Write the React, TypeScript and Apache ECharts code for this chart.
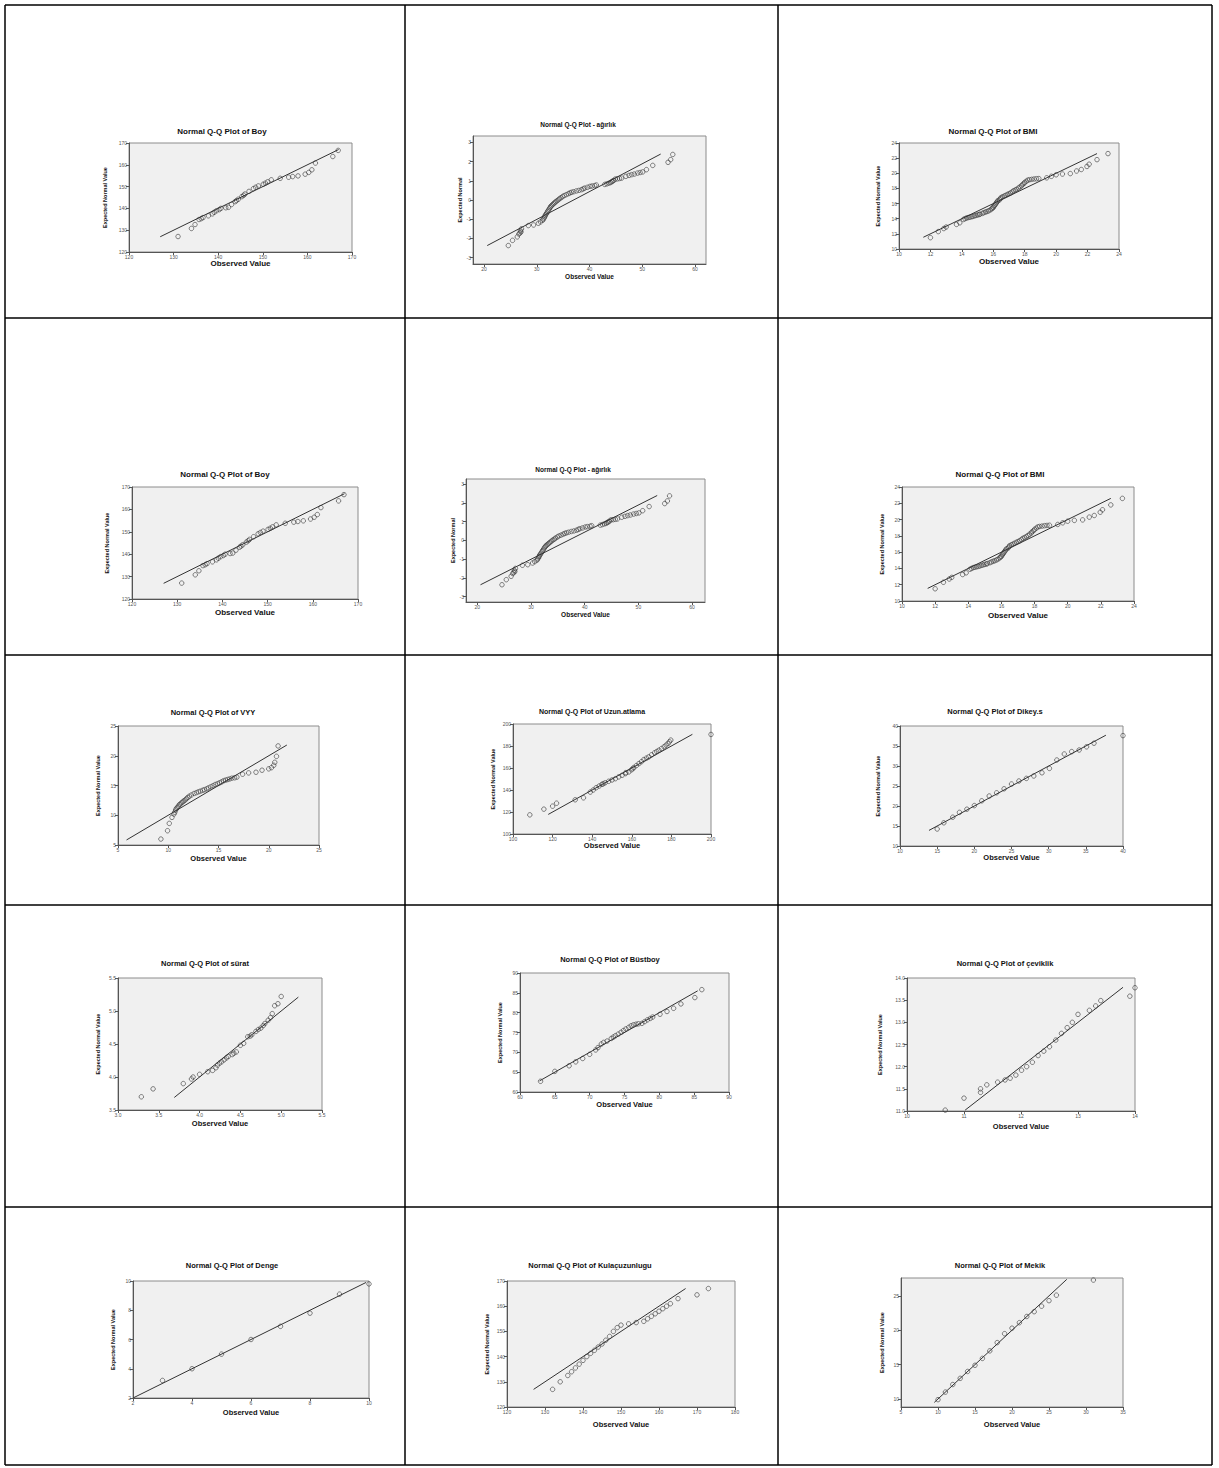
import React, { useEffect, useRef } from "react";
import * as echarts from "echarts";

// ---------- data: [observed, expected] pairs ----------
const boyPts = [[131,127.1],[134,130.8],[134.8,132.6],[135.7,134.9],[136.2,135.3],[136.6,135.8],[137.8,136.6],[138.7,137.5],[139.1,138.2],[139.6,138.9],[140.2,139.4],[140.6,140.0],[141.7,140.3],[142.3,140.5],[143,141.8],[143.8,143.1],[144.1,143.6],[144.5,144.2],[145.3,145.4],[145.7,146.0],[146,146.6],[146.9,147.8],[147.9,149.1],[148.4,149.7],[149,150.3],[150.1,151.1],[150.6,151.6],[151.1,152.2],[151.9,153.1],[153.9,153.8],[155.8,154.3],[156.7,154.6],[157.9,154.9],[159.5,155.7],[160.3,156.5],[161,157.7],[161.8,160.8],[165.7,163.8],[166.9,166.6]];
const boyLine = [[127,127],[167,167]];

const agirlikPts = [[24.6,-2.37],[25.4,-2.1],[26.3,-1.92],[26.6,-1.77],[26.8,-1.72],[26.9,-1.6],[27.0,-1.66],[27.1,-1.5],[28.4,-1.33],[29.4,-1.3],[30.3,-1.21],[30.7,-1.14],[31.1,-1.06],[31.2,-1.0],[31.4,-0.94],[31.5,-0.87],[31.6,-0.8],[31.75,-0.74],[31.9,-0.68],[32.05,-0.6],[32.2,-0.54],[32.35,-0.47],[32.5,-0.4],[32.65,-0.34],[32.8,-0.29],[33.0,-0.24],[33.2,-0.19],[33.4,-0.14],[33.6,-0.09],[33.85,-0.04],[34.1,0.02],[34.35,0.07],[34.6,0.12],[34.9,0.18],[35.2,0.23],[35.6,0.28],[36.0,0.33],[36.3,0.37],[36.6,0.4],[37.0,0.43],[37.5,0.47],[38.0,0.5],[38.5,0.54],[38.8,0.58],[39.1,0.62],[39.6,0.66],[40.1,0.71],[40.5,0.73],[41.0,0.75],[41.3,0.78],[42.9,0.81],[43.3,0.84],[43.7,0.88],[44.0,0.91],[44.2,0.95],[44.4,0.98],[44.6,1.02],[44.9,1.09],[45.3,1.1],[45.7,1.12],[46.1,1.14],[46.9,1.23],[47.5,1.28],[48.0,1.32],[48.5,1.35],[49.1,1.4],[49.6,1.43],[50.1,1.46],[50.8,1.58],[52.0,1.8],[54.9,1.96],[55.4,2.1],[55.8,2.37]];
const agirlikLine = [[20.6,-2.37],[53.5,2.39]];

const bmiPts = [[12.0,11.5],[12.5,12.3],[12.85,12.7],[13.0,12.9],[13.66,13.25],[13.87,13.46],[14.1,13.9],[14.2,14.0],[14.3,14.1],[14.4,14.15],[14.5,14.2],[14.6,14.25],[14.7,14.3],[14.8,14.38],[14.9,14.43],[15.0,14.5],[15.1,14.55],[15.15,14.6],[15.3,14.7],[15.4,14.8],[15.5,14.88],[15.6,14.95],[15.7,15.04],[15.8,15.15],[15.9,15.3],[15.95,15.4],[16.0,15.5],[16.05,15.65],[16.1,15.8],[16.15,15.95],[16.2,16.1],[16.25,16.25],[16.3,16.4],[16.4,16.5],[16.45,16.65],[16.5,16.8],[16.6,16.9],[16.7,17.0],[16.8,17.1],[16.9,17.2],[17.0,17.3],[17.1,17.4],[17.2,17.55],[17.3,17.7],[17.4,17.8],[17.5,17.9],[17.6,18.05],[17.7,18.2],[17.8,18.35],[17.85,18.5],[17.95,18.65],[18.0,18.8],[18.1,18.95],[18.2,19.1],[18.3,19.15],[18.45,19.2],[18.6,19.25],[18.75,19.28],[18.9,19.3],[19.4,19.4],[19.7,19.6],[20.0,19.8],[20.4,19.9],[20.9,19.96],[21.3,20.3],[21.6,20.5],[21.96,20.9],[22.1,21.2],[22.6,21.8],[23.3,22.6]];
const bmiLine = [[11.55,11.55],[22.6,22.6]];

const vyyPts = [[9.27,6.0],[9.93,7.4],[10.1,8.63],[10.37,9.64],[10.57,10.2],[10.65,10.5],[10.73,10.87],[10.8,11.1],[10.9,11.3],[11.0,11.5],[11.1,11.76],[11.2,11.9],[11.33,12.1],[11.45,12.25],[11.57,12.43],[11.7,12.6],[11.83,12.8],[11.95,13.0],[12.1,13.2],[12.3,13.4],[12.57,13.66],[12.8,13.8],[13.0,13.94],[13.2,14.05],[13.43,14.2],[13.6,14.3],[13.83,14.44],[14.0,14.6],[14.23,14.78],[14.45,14.95],[14.67,15.17],[14.9,15.3],[15.1,15.45],[15.3,15.6],[15.5,15.8],[15.7,15.9],[15.9,16.0],[16.1,16.1],[16.33,16.23],[16.6,16.3],[16.83,16.4],[17.4,16.9],[18.0,17.12],[18.73,17.23],[19.33,17.57],[20.0,17.8],[20.27,18.0],[20.5,18.4],[20.6,18.9],[20.77,19.9],[20.93,21.65]];
const vyyLine = [[5.85,5.85],[21.8,21.8]];

const uzunPts = [[108.5,117.4],[115.6,122.6],[120.0,125.3],[122.0,128.0],[131.4,131.1],[135.6,132.9],[139.0,138.1],[140.5,140.0],[142.0,142.1],[143.5,143.6],[144.9,145.1],[145.5,145.6],[146.5,146.5],[148.3,147.9],[150,149.1],[151.7,150.3],[153.4,151.9],[155.1,153.4],[156.8,154.9],[157,155.8],[158.5,156.4],[159.8,158.4],[160.5,159.3],[161.0,160.4],[162.3,162.2],[163.6,164.0],[164.9,165.8],[166.1,167.7],[167.4,169.0],[168.6,170.1],[170.0,172.0],[171.5,173.8],[172.6,175.0],[173.7,176.2],[175.0,177.7],[176.3,179.3],[177.3,180.8],[178.3,182.3],[179.0,183.8],[179.7,185.4],[200,190.5]];
const uzunLine = [[117.8,117.8],[190.6,190.6]];

const dikeyPts = [[15.0,14.25],[15.9,15.8],[17.1,17.2],[18.0,18.4],[19.0,19.2],[20.0,20.1],[21.0,21.3],[22.0,22.5],[23.0,23.3],[24.0,24.3],[25.0,25.5],[26.0,26.25],[27.0,26.9],[28.0,27.5],[29.1,28.3],[30.1,29.4],[31.1,31.5],[32.1,33.0],[33.1,33.6],[34.1,34.0],[35.1,34.8],[36.1,35.7],[40.0,37.6]];
const dikeyLine = [[13.9,13.9],[37.7,37.7]];

const suratPts = [[3.286,3.7],[3.43,3.82],[3.8,3.9],[3.9,3.97],[3.92,4.0],[4.0,4.04],[4.1,4.08],[4.16,4.1],[4.2,4.14],[4.22,4.18],[4.245,4.21],[4.27,4.23],[4.3,4.26],[4.33,4.29],[4.35,4.31],[4.4,4.34],[4.42,4.36],[4.45,4.38],[4.5,4.48],[4.54,4.51],[4.59,4.61],[4.62,4.62],[4.64,4.64],[4.69,4.69],[4.72,4.72],[4.75,4.74],[4.78,4.78],[4.8,4.81],[4.84,4.86],[4.87,4.9],[4.89,4.96],[4.92,5.08],[4.96,5.11],[5.0,5.22]];
const suratLine = [[3.69,3.69],[5.21,5.21]];

const bustPts = [[62.95,62.7],[65.0,65.2],[67.05,66.6],[68.0,67.6],[69.0,68.45],[70.0,69.5],[70.86,70.6],[71.2,71.2],[71.67,72.1],[72.0,72.5],[72.5,72.85],[73.1,73.5],[73.4,73.85],[73.7,74.2],[74.1,74.6],[74.5,75.05],[74.85,75.5],[75.2,75.9],[75.6,76.3],[75.95,76.7],[76.3,76.95],[76.67,77.1],[77.0,77.2],[77.5,77.3],[77.9,77.75],[78.3,78.2],[78.7,78.55],[79.05,78.9],[80.1,79.6],[81.1,80.3],[82.05,81.1],[83.1,82.2],[85.1,83.8],[86.1,85.8]];
const bustLine = [[62.8,62.8],[85.5,85.5]];

const cevikPts = [[10.67,11.02],[11.0,11.29],[11.29,11.42],[11.29,11.5],[11.4,11.59],[11.59,11.65],[11.72,11.7],[11.81,11.74],[11.91,11.81],[12.01,11.92],[12.1,12.0],[12.2,12.1],[12.3,12.25],[12.4,12.35],[12.5,12.45],[12.61,12.6],[12.71,12.75],[12.81,12.88],[12.9,13.0],[13.0,13.18],[13.2,13.27],[13.31,13.37],[13.4,13.49],[13.91,13.59],[14.0,13.78]];
const cevikLine = [[11.02,11.02],[13.79,13.79]];

const dengePts = [[3,3.2],[4,4.0],[5,5.0],[6,6.0],[7,6.9],[8,7.8],[9,9.1],[10,9.8]];
const dengeLine = [[2,2],[9.9,9.9]];

const kulacPts = [[132,127],[134,130],[136,132.5],[137,134],[138,135.5],[139,137],[140,138.5],[141,140],[142,141.3],[143,142.5],[144,143.8],[145,145],[146,146.5],[147,148],[148,150],[149,151.5],[150,152.5],[152,153],[154,153.5],[156,154],[157,155],[158,156],[159,157],[160,158],[161,159],[162,160],[163,161],[165,163],[170,164.5],[173,167]];
const kulacLine = [[127,127],[167,167]];

const mekikPts = [[10,9.9],[11,11],[12,12.1],[13,13.0],[14,14.0],[15,14.9],[16,15.9],[17,17.0],[18,18.2],[19,19.5],[20,20.3],[21,21.1],[22,22.0],[23,22.7],[24,23.5],[25,24.3],[26,25.1],[31,27.3]];
const mekikLine = [[9.5,9.5],[27.4,27.4]];

// ---------- tick labels ----------
const t120_170 = [120,130,140,150,160,170];
const t120_180 = [120,130,140,150,160,170,180];
const t20_60 = [20,30,40,50,60];
const tm3_3 = [-3,-2,-1,0,1,2,3];
const t10_24 = [10,12,14,16,18,20,22,24];
const t5_25 = [5,10,15,20,25];
const t100_200 = [100,120,140,160,180,200];
const t10_40 = [10,15,20,25,30,35,40];
const t30_55 = [3.0,3.5,4.0,4.5,5.0,5.5];
const t35_55 = [3.5,4.0,4.5,5.0,5.5];
const t60_90 = [60,65,70,75,80,85,90];
const t10_14 = [10,11,12,13,14];
const t11_14 = [11.0,11.5,12.0,12.5,13.0,13.5,14.0];
const t2_10 = [2,4,6,8,10];
const t5_35 = [5,10,15,20,25,30,35];
const t10_25 = [10,15,20,25];

const ENV = "Expected Normal Value";
const OBS = "Observed Value";

// ---------- layout (positions / styles) ----------
const panels = [
  { title: "Normal Q-Q Plot of Boy", yName: ENV, pts: boyPts, line: boyLine, box: [129,143,352,252], xr: [120,170], xt: t120_170, yr: [120,170], yt: t120_170, tAt: [222,132], xNY: 263, yNX: 105, tfs: 8, nfs: 8, xd: 0, yd: 0 },
  { title: "Normal Q-Q Plot - ağırlık", yName: "Expected Normal", pts: agirlikPts, line: agirlikLine, box: [473,136,706,264], xr: [17.9,62.1], xt: t20_60, yr: [-3.33,3.33], yt: tm3_3, tAt: [578,125], xNY: 276, yNX: 461, tfs: 6.5, nfs: 6.5, xd: 0, yd: 0 },
  { title: "Normal Q-Q Plot of BMI", yName: ENV, pts: bmiPts, line: bmiLine, box: [899,143,1119,249], xr: [10,24], xt: t10_24, yr: [10,24], yt: t10_24, tAt: [993,132], xNY: 261, yNX: 878, tfs: 8, nfs: 8, xd: 0, yd: 0 },
  { title: "Normal Q-Q Plot of Boy", yName: ENV, pts: boyPts, line: boyLine, box: [132,487,358,599], xr: [120,170], xt: t120_170, yr: [120,170], yt: t120_170, tAt: [225,475], xNY: 612, yNX: 107, tfs: 8, nfs: 8, xd: 0, yd: 0 },
  { title: "Normal Q-Q Plot - ağırlık", yName: "Expected Normal", pts: agirlikPts, line: agirlikLine, box: [466,479,705,602], xr: [17.9,62.4], xt: t20_60, yr: [-3.29,3.27], yt: tm3_3, tAt: [573,470], xNY: 614, yNX: 453, tfs: 6.5, nfs: 6.5, xd: 0, yd: 0 },
  { title: "Normal Q-Q Plot of BMI", yName: ENV, pts: bmiPts, line: bmiLine, box: [902,487,1134,601], xr: [10,24], xt: t10_24, yr: [10,24], yt: t10_24, tAt: [1000,475], xNY: 615, yNX: 882, tfs: 8, nfs: 8, xd: 0, yd: 0 },
  { title: "Normal Q-Q Plot of VYY", yName: ENV, pts: vyyPts, line: vyyLine, box: [118,726,319,845], xr: [5,25], xt: t5_25, yr: [5,25], yt: t5_25, tAt: [213,713], xNY: 858, yNX: 98, tfs: 7.5, nfs: 7.5, xd: 0, yd: 0 },
  { title: "Normal Q-Q Plot of Uzun.atlama", yName: ENV, pts: uzunPts, line: uzunLine, box: [513,724,711,834], xr: [100,200], xt: t100_200, yr: [100,200], yt: t100_200, tAt: [592,712], xNY: 845, yNX: 493, tfs: 7, nfs: 7.5, xd: 0, yd: 0 },
  { title: "Normal Q-Q Plot of Dikey.s", yName: ENV, pts: dikeyPts, line: dikeyLine, box: [900,726,1123,846], xr: [10,40], xt: t10_40, yr: [10,40], yt: t10_40, tAt: [995,712], xNY: 857, yNX: 878, tfs: 7.5, nfs: 7.5, xd: 0, yd: 0 },
  { title: "Normal Q-Q Plot of sürat", yName: ENV, pts: suratPts, line: suratLine, box: [118,978,322,1110], xr: [3.0,5.5], xt: t30_55, yr: [3.5,5.5], yt: t35_55, tAt: [205,964], xNY: 1123, yNX: 98, tfs: 7.5, nfs: 7.5, xd: 1, yd: 1 },
  { title: "Normal Q-Q Plot of Büstboy", yName: ENV, pts: bustPts, line: bustLine, box: [520,973,729,1092], xr: [60,90], xt: t60_90, yr: [60,90], yt: t60_90, tAt: [610,960], xNY: 1104, yNX: 500, tfs: 7.5, nfs: 7.5, xd: 0, yd: 0 },
  { title: "Normal Q-Q Plot of çeviklik", yName: ENV, pts: cevikPts, line: cevikLine, box: [907,978,1135,1111], xr: [10,14], xt: t10_14, yr: [11,14], yt: t11_14, tAt: [1005,964], xNY: 1126, yNX: 880, tfs: 7.5, nfs: 7.5, xd: 0, yd: 1 },
  { title: "Normal Q-Q Plot of Denge", yName: ENV, pts: dengePts, line: dengeLine, box: [133,1281,369,1398], xr: [2,10], xt: t2_10, yr: [2,10], yt: t2_10, tAt: [232,1266], xNY: 1412, yNX: 113, tfs: 7.5, nfs: 7.5, xd: 0, yd: 0 },
  { title: "Normal Q-Q Plot of Kulaçuzunlugu", yName: ENV, pts: kulacPts, line: kulacLine, box: [507,1281,735,1407], xr: [120,180], xt: t120_180, yr: [120,170], yt: t120_170, tAt: [590,1266], xNY: 1424, yNX: 487, tfs: 7.5, nfs: 7.5, xd: 0, yd: 0 },
  { title: "Normal Q-Q Plot of Mekik", yName: ENV, pts: mekikPts, line: mekikLine, box: [901,1278,1123,1407], xr: [5,35], xt: t5_35, yr: [8.83,27.6], yt: t10_25, tAt: [1000,1266], xNY: 1424, yNX: 882, tfs: 7.5, nfs: 7.5, xd: 0, yd: 0 },
];

// table grid lines
const colX = [5, 405, 778, 1212];
const rowY = [5, 318, 655, 905, 1207, 1465];

const FONT = '"Liberation Sans", Arial, sans-serif';
const NARROW = '"Liberation Sans Narrow", "Liberation Sans", Arial, sans-serif';

function buildOption() {
  const grid: any[] = [];
  const xAxis: any[] = [];
  const yAxis: any[] = [];
  const series: any[] = [];
  const title: any[] = [];
  panels.forEach((p, i) => {
    const [l, t, r, b] = p.box;
    grid.push({ left: l, top: t, width: r - l, height: b - t, show: true, backgroundColor: "#f0f0f0", borderColor: "#8c8c8c", borderWidth: 1, containLabel: false, outerBoundsMode: "none" });
    title.push({ text: p.title, left: p.tAt[0], top: p.tAt[1] - p.tfs / 2 - 1, textAlign: "center", padding: 0, textStyle: { fontFamily: FONT, fontSize: p.tfs, fontWeight: "bold", color: "#111" } });
    const xfs = p.nfs;
    xAxis.push({
      type: "value", gridIndex: i, min: p.xr[0], max: p.xr[1],
      name: OBS, nameLocation: "middle", nameGap: p.xNY - b - xfs / 2,
      nameTextStyle: { fontFamily: FONT, fontSize: xfs, fontWeight: "bold", color: "#111" },
      axisLine: { show: true, onZero: false, lineStyle: { color: "#555", width: 1 } },
      axisTick: { show: true, length: 3, customValues: p.xt, lineStyle: { color: "#555" } },
      axisLabel: { customValues: p.xt, fontSize: 5, color: "#555", fontFamily: FONT, margin: 2, formatter: (v: number) => v.toFixed(p.xd), showMinLabel: true, showMaxLabel: true, hideOverlap: false },
      splitLine: { show: false },
    });
    const yfs = 5.5;
    yAxis.push({
      type: "value", gridIndex: i, min: p.yr[0], max: p.yr[1],
      name: p.yName, nameLocation: "middle", nameGap: l - p.yNX - yfs / 2,
      nameTextStyle: { fontFamily: NARROW, fontSize: yfs, fontWeight: "bold", color: "#111" },
      axisLine: { show: true, onZero: false, lineStyle: { color: "#555", width: 1 } },
      axisTick: { show: true, length: 3, customValues: p.yt, lineStyle: { color: "#555" } },
      axisLabel: { customValues: p.yt, fontSize: 5, color: "#555", fontFamily: FONT, margin: 2, formatter: (v: number) => v.toFixed(p.yd), showMinLabel: true, showMaxLabel: true, hideOverlap: false },
      splitLine: { show: false },
    });
    series.push({
      type: "line", xAxisIndex: i, yAxisIndex: i, data: p.line, symbol: "none", silent: true,
      lineStyle: { color: "#333", width: 1 }, clip: true,
    });
    series.push({
      type: "scatter", xAxisIndex: i, yAxisIndex: i, data: p.pts, symbol: "circle", symbolSize: 4.5,
      itemStyle: { color: "rgba(0,0,0,0)", borderColor: "#3a3a3a", borderWidth: 0.8 }, clip: false,
    });
  });

  const graphic: any[] = [];
  colX.forEach((x) => graphic.push({ type: "line", shape: { x1: x, y1: rowY[0], x2: x, y2: rowY[rowY.length - 1] }, style: { stroke: "#000", lineWidth: 1.5 } }));
  rowY.forEach((y) => graphic.push({ type: "line", shape: { x1: colX[0], y1: y, x2: colX[colX.length - 1], y2: y }, style: { stroke: "#000", lineWidth: 1.5 } }));

  return { animation: false, backgroundColor: "#fff", title, grid, xAxis, yAxis, series, graphic };
}

export default function App() {
  const ref = useRef<HTMLDivElement>(null);
  useEffect(() => {
    if (!ref.current) return;
    const chart = echarts.init(ref.current, null, { renderer: "svg" });
    chart.setOption(buildOption() as any);
    return () => chart.dispose();
  }, []);
  return <div ref={ref} style={{ position: "absolute", left: 0, top: 0, width: 1219, height: 1468 }} />;
}
